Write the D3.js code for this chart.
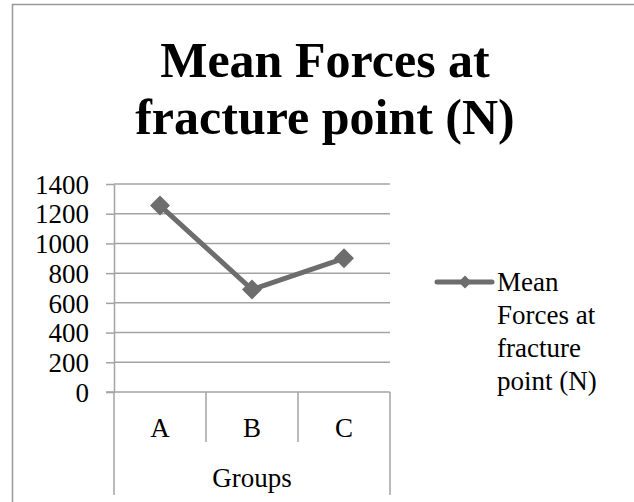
<!DOCTYPE html>
<html>
<head>
<meta charset="utf-8">
<script src="https://cdn.jsdelivr.net/npm/d3@7.9.0/dist/d3.min.js"></script>
<style>
  html, body { margin: 0; padding: 0; background: #fff; }
  svg { display: block; }
  text { font-family: "Liberation Serif", "Times New Roman", serif; fill: #000; }
</style>
</head>
<body>
<script>
// data
const groups = ['A', 'B', 'C'];
const meanForces = [1255, 690, 900];
const yTicks = [0, 200, 400, 600, 800, 1000, 1200, 1400];
const titleLines = ['Mean Forces at', 'fracture point (N)'];
const legendLines = ['Mean', 'Forces at', 'fracture', 'point (N)'];
const axisTitle = 'Groups';

const W = 634, H = 502;
const plot = { left: 114, right: 390, top: 184, bottom: 392 };
const GRID = '#a3a3a3', LINE = '#6d6d6d';
const FS = '27px';

const svg = d3.select('body').append('svg')
  .attr('width', W).attr('height', H);

// chart frame (right/bottom edges run off the picture)
svg.append('rect')
  .attr('x', 12.5).attr('y', 4.5)
  .attr('width', W + 20).attr('height', H + 20)
  .attr('fill', '#fff').attr('stroke', '#999').attr('stroke-width', 1.5);

// title
svg.append('text')
  .attr('text-anchor', 'middle')
  .style('font-weight', 'bold').style('font-size', '50px')
  .selectAll('tspan').data(titleLines).join('tspan')
    .attr('x', 325).attr('y', (d, i) => 77 + i * 57)
    .text(d => d);

// scales
const x = d3.scaleBand().domain(groups).range([plot.left, plot.right]);
const y = d3.scaleLinear().domain([0, 1400]).range([plot.bottom, plot.top]);

// gridlines
svg.append('g').selectAll('line').data(yTicks.filter(d => d > 0)).join('line')
  .attr('x1', plot.left).attr('x2', plot.right)
  .attr('y1', d => y(d)).attr('y2', d => y(d))
  .attr('stroke', GRID).attr('stroke-width', 1.5);

// y axis
const yAxis = svg.append('g')
  .attr('transform', `translate(${plot.left},0)`)
  .call(d3.axisLeft(y).tickValues(yTicks).tickFormat(d3.format('d'))
    .tickSize(8).tickPadding(17).tickSizeOuter(0));
yAxis.select('.domain').attr('stroke', GRID).attr('stroke-width', 1.5);
yAxis.selectAll('.tick line').attr('stroke', GRID).attr('stroke-width', 1.5);
yAxis.selectAll('.tick text')
  .style('font-size', FS).attr('font-family', null).attr('dy', '0.34em');

// category axis: baseline + dividers
svg.append('line')
  .attr('x1', plot.left - 8).attr('x2', plot.right)
  .attr('y1', plot.bottom).attr('y2', plot.bottom)
  .attr('stroke', GRID).attr('stroke-width', 1.5);

const edges = groups.map(g => x(g)).concat([plot.right]);
svg.append('g').selectAll('line').data(edges).join('line')
  .attr('x1', d => d).attr('x2', d => d)
  .attr('y1', plot.bottom)
  .attr('y2', (d, i) => (i === 0 || i === edges.length - 1) ? 495 : 442)
  .attr('stroke', GRID).attr('stroke-width', 1.5);

svg.append('g').selectAll('text').data(groups).join('text')
  .attr('x', d => x(d) + x.bandwidth() / 2)
  .attr('y', 428).attr('dy', '0.35em')
  .attr('text-anchor', 'middle')
  .style('font-size', FS)
  .text(d => d);

svg.append('text')
  .attr('x', (plot.left + plot.right) / 2).attr('y', 478).attr('dy', '0.35em')
  .attr('text-anchor', 'middle')
  .style('font-size', FS)
  .text(axisTitle);

// series line + diamond markers
const pts = groups.map((g, i) => ({ g, v: meanForces[i] }));
svg.append('path')
  .datum(pts)
  .attr('fill', 'none').attr('stroke', LINE).attr('stroke-width', 5)
  .attr('stroke-linejoin', 'round')
  .attr('d', d3.line().x(d => x(d.g) + x.bandwidth() / 2).y(d => y(d.v)));

svg.append('g').selectAll('path').data(pts).join('path')
  .attr('transform', d => `translate(${x(d.g) + x.bandwidth() / 2},${y(d.v)}) rotate(45)`)
  .attr('d', d3.symbol().type(d3.symbolSquare).size(200))
  .attr('fill', LINE);

// legend
const lg = svg.append('g').attr('transform', 'translate(437,282)');
lg.append('line')
  .attr('x1', 0).attr('x2', 55).attr('y1', 0).attr('y2', 0)
  .attr('stroke', LINE).attr('stroke-width', 5).attr('stroke-linecap', 'round');
lg.append('path')
  .attr('transform', 'translate(28,0) rotate(45)')
  .attr('d', d3.symbol().type(d3.symbolSquare).size(85))
  .attr('fill', LINE);
lg.append('text')
  .style('font-size', FS)
  .selectAll('tspan').data(legendLines).join('tspan')
    .attr('x', 60).attr('y', (d, i) => i * 33).attr('dy', '0.35em')
    .text(d => d);
</script>
</body>
</html>
